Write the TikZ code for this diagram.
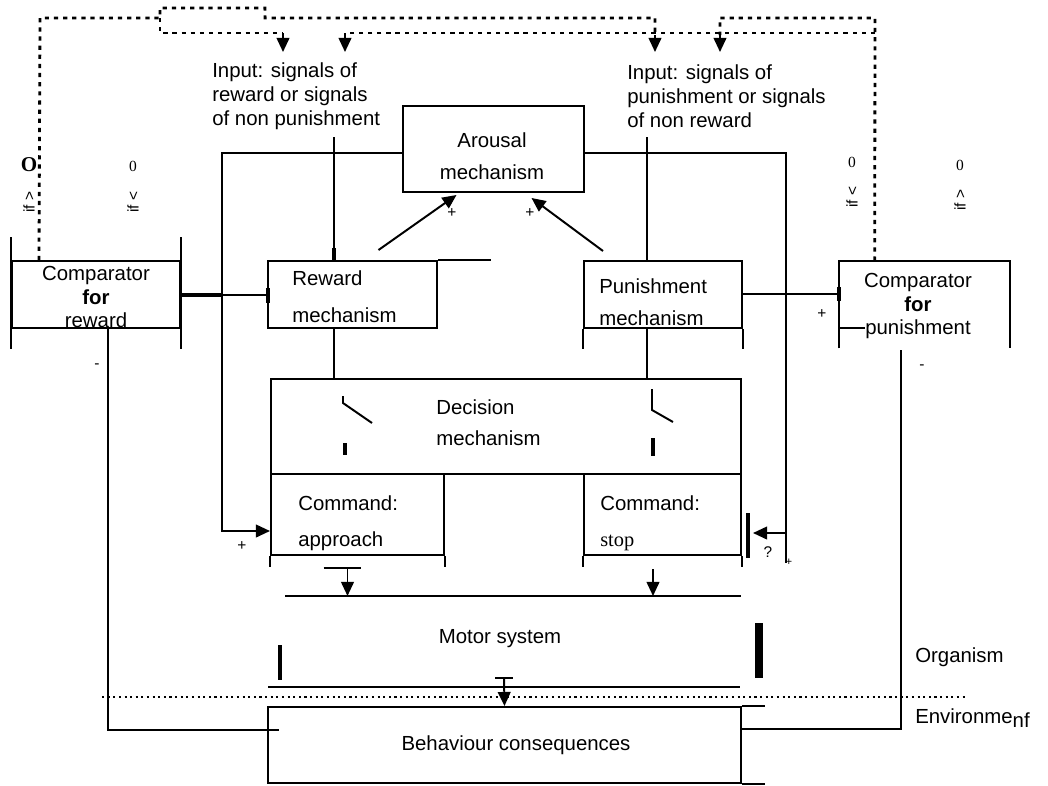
\documentclass[tikz,border=0pt]{standalone}
\usepackage{fontspec}
\setmainfont{Liberation Sans}
\newfontfamily\serifface{Liberation Serif}
\usetikzlibrary{calc,arrows.meta,positioning}

\begin{document}
\begin{tikzpicture}[x=0.025cm, y=-0.025cm,
    box/.style={draw, line width=1.4pt, inner sep=0pt},
    txt/.style={font=\fontsize{14.5}{17}\selectfont, inner sep=0pt},
    sml/.style={font=\fontsize{11}{11}\selectfont, inner sep=0pt},
    wire/.style={line width=1.4pt},
    sig/.style={line width=2pt, dash pattern=on 3pt off 3.5pt},
    bar/.style={line width=3.5pt},
    >={Triangle[width=9pt,length=10pt]}]

  \useasboundingbox (0,0) rectangle (1048,785);

  % boxes
  \node[box, minimum width=4.2cm, minimum height=1.675cm] (cmpR) at (96,294.5) {};
  \node[box, minimum width=4.225cm, minimum height=1.675cm] (rewM) at (352.5,294.5) {};
  \node[box, minimum width=3.95cm, minimum height=1.675cm] (punM) at (663,294.5) {};
  \node[inner sep=0pt, minimum width=4.275cm, minimum height=1.675cm] (cmpP) at (924.5,294.5) {};
  \node[box, minimum width=4.525cm, minimum height=2.15cm] (arou) at (493.5,149) {};
  \node[box, minimum width=11.75cm, minimum height=2.375cm] (deci) at (506,426.5) {};
  \node[box, minimum width=4.325cm, minimum height=2.025cm] (appr) at (357.5,514.5) {};
  \node[box, minimum width=3.925cm, minimum height=2.025cm] (stopC) at (662.5,514.5) {};
  \node[box, minimum width=11.825cm, minimum height=1.9cm] (behav) at (504.5,745) {};

  % box texts
  \node[txt, align=center] (cmpRT) at (96,297) {Comparator\\\textbf{for}\\reward};
  \node[txt, anchor=west, align=left] (rewT) at (292,296.5) {Reward\\[9pt]mechanism};
  \node[txt, anchor=west, align=left] (punT) at (599,302) {Punishment\\[5.5pt]mechanism};
  \node[txt, align=center] (cmpPT) at (918,306) {Comparator\\\textbf{for}\\punishment};
  \node[txt, align=center] (arouT) at (492,156) {Arousal\\[5.5pt]mechanism};
  \node[txt, anchor=west, align=left] (deciT) at (436,423) {Decision\\[5pt]mechanism};
  \node[txt, anchor=west, align=left] (apprT) at (298,523) {Command:\\[8.5pt]approach};
  \node[txt, anchor=west, align=left] (stopT) at (600,523) {Command:\\[8.5pt]{\serifface stop}};
  \node[txt] (motor) at (500,639) {Motor system};
  \node[txt] (behavT) at (516,745) {Behaviour consequences};
  \node[txt, anchor=west] (organ) at (915,657) {Organism};
  \node[txt, anchor=west] (envir) at (915,718) {Environme\raisebox{-3pt}{nf}};
  \node[txt, anchor=west, align=left] (inR) at (212,96) {Input: signals of\\reward or signals\\of non punishment};
  \node[txt, anchor=west, align=left] (inP) at (627,96) {Input: signals of\\punishment or signals\\of non reward};

  % comparator conditions
  \node[font=\serifface\bfseries\fontsize{15}{15}\selectfont] (gR1) at (29,165) {O};
  \node[sml, rotate=90] (gR1t) at (29,202) {if >};
  \node[font=\serifface\fontsize{11}{11}\selectfont] (gR2) at (133,166) {0};
  \node[sml, rotate=90] (gR2t) at (133,202) {if <};
  \node[font=\serifface\fontsize{11}{11}\selectfont] (gP1) at (852,162) {0};
  \node[sml, rotate=90] (gP1t) at (852,197) {if <};
  \node[font=\serifface\fontsize{11}{11}\selectfont] (gP2) at (960,165) {0};
  \node[sml, rotate=90] (gP2t) at (960,200) {if >};

  % open sides of the boxes
  \draw[wire] ($(cmpR.north west)+(0,-23)$) -- ($(cmpR.south west)+(0,20)$);
  \draw[wire] ($(cmpR.north east)+(0,-23)$) -- ($(cmpR.south east)+(0,20)$);
  \draw[wire] ($(cmpP.south west)+(0,20)$) -- (cmpP.north west) -- (cmpP.north east) -- ($(cmpP.south east)+(0,20)$);
  \draw[wire] (cmpP.south west) -- ++(26,0);
  \draw[wire] (rewM.north east) -- ++(53,0);
  \draw[wire] (punM.south west) -- ++(0,20);
  \draw[wire] (punM.south east) -- ++(0,20);
  \draw[wire] (appr.south west) -- ++(0,11);
  \draw[wire] (appr.south east) -- ++(0,11);
  \draw[wire] (stopC.south west) -- ++(0,11);
  \draw[wire] (stopC.south east) -- ++(0,11);
  \draw[wire] (behav.north east) -- ++(23,0);
  \draw[wire] (behav.south east) -- ++(23,0);

  % input lines and switches
  \coordinate (rwIn) at (334,137);
  \coordinate (pnIn) at (647,137);
  \draw[wire] (rwIn) -- (rwIn |- rewM.north);
  \draw[bar, line width=2.5pt] (334,248) -- (rwIn |- rewM.north);
  \draw[wire] (pnIn) -- (pnIn |- punM.north);
  \draw[wire] (rewM.south -| rwIn) -- (deci.north -| rwIn);
  \draw[wire] (punM.south -| pnIn) -- (deci.north -| pnIn);
  \draw[wire] (343,396) -- (343,403) -- (372,423);
  \draw[bar, line width=2.5pt] (345,443) -- (345,455);
  \draw[wire] (652,389) -- (652,410) -- (673,422);
  \draw[bar, line width=2.5pt] (653,438) -- (653,456);

  % comparators to mechanisms
  \draw[wire] (cmpR.east |- 0,295) -- (rewM.west |- 0,295);
  \draw[bar, line width=3pt] (cmpR.east |- 0,295) -- ++(40,0);
  \draw[bar, line width=3pt] (268,288) -- (268,303);
  \draw[wire] (punM.east |- 0,294) -- (cmpP.west |- 0,294);
  \draw[bar, line width=3pt] (839,287) -- (839,301);

  % arousal
  \draw[wire,->] ($(rewM.north)+(26,-10)$) -- ($(arou.south)+(-37,2)$);
  \draw[wire,->] ($(punM.north)+(-60,-9)$) -- ($(arou.south)+(38,5)$);
  \node[sml] (plA) at (452,213) {+};
  \node[sml] (plB) at (530,213) {+};
  \draw[wire,->] (arou.west |- 0,153) -- (222,153) -- (222,531) -- (appr.west |- 0,531);
  \node[sml] (plC) at (242,546) {+};
  \draw[wire] (arou.east |- 0,153) -- (786,153) -- (786,563);
  \coordinate (stopBar) at (748,533);
  \draw[wire,->] (786,533) -- ($(stopBar)+(5,0)$);
  \draw[bar] ($(stopBar)+(0,-20)$) -- ($(stopBar)+(0,25)$);
  \node[sml] (qmS) at (768,552) {?};
  \node[sml, font=\fontsize{8}{8}\selectfont] (plS) at (789,562) {+};

  % commands to motor system
  \coordinate (motTL) at (285,596);
  \coordinate (motTR) at (741,596);
  \coordinate (motBL) at (268,687);
  \coordinate (motBR) at (740,687);
  \draw[wire] (motTL) -- (motTR);
  \draw[wire] (motBL) -- (motBR);
  \coordinate (apOut) at ($(appr.south)+(-10,12)$);
  \coordinate (stOut) at ($(stopC.south)+(-9.5,13)$);
  \draw[wire] ($(apOut)+(-24,0)$) -- ($(apOut)+(13,0)$);
  \draw[wire,->] (apOut) -- (apOut |- motTL);
  \draw[wire,->] (stOut) -- (stOut |- motTL);
  \draw[bar] (280,645) -- (280,680);
  \draw[bar, line width=5pt] (759,623) -- (759,678);

  % motor system to behaviour
  \coordinate (moOut) at (504,678);
  \draw[wire] ($(moOut)+(-9,0)$) -- ($(moOut)+(9,0)$);
  \draw[wire,->] (moOut) -- (behav.north);
  \draw[line width=1.3pt, dash pattern=on 1.5pt off 2.5pt] (102,697) -- (965,697);

  % feedback to comparators
  \draw[wire] ($(behav.west)+(12,-15)$) -| ($(cmpR.south)+(12,0)$);
  \draw[wire] ($(behav.east)+(0,-16)$) -| ($(cmpP.south)+(-23.5,22)$);
  \node[sml] (mnR) at (97,366) {-};
  \node[sml] (mnP) at (922,367) {-};
  \node[sml] (plP) at (822,314) {+};

  % signals from the comparators
  \draw[sig] ($(cmpR.north west)+(28,0)$) -- (40,18) -- (160,18) -- (160,8) -- (265,8) -- (265,18) -- (655,18) -- (655,35);
  \draw[sig] (160,18) -- (160,33) -- (283,33);
  \draw[sig] ($(cmpP.north west)+(36,0)$) -- (875,18) -- (720,18) -- (720,35);
  \draw[sig] (875,33) -- (345,33);
  \draw[wire,->] (283,33) -- (283,52);
  \draw[wire,->] (345,33) -- (345,52);
  \draw[wire,->] (655,35) -- (655,52);
  \draw[wire,->] (720,35) -- (720,52);

\end{tikzpicture}
\end{document}
